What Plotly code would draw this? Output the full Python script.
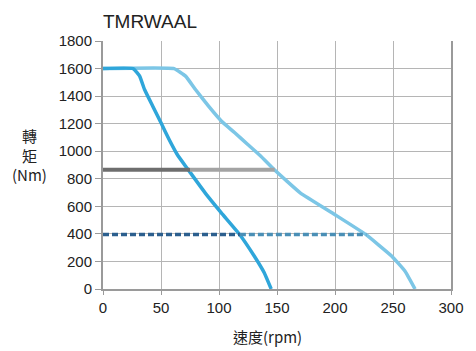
import plotly.graph_objects as go

# Data
x_ticks = [0, 50, 100, 150, 200, 250, 300]
y_ticks = [0, 200, 400, 600, 800, 1000, 1200, 1400, 1600, 1800]

curve_a_x = [0, 26, 31.6, 35.8, 42.9, 50, 57, 64, 71.2, 75.4, 88, 102, 117.8, 130.5, 139, 145]
curve_a_y = [1600, 1600, 1545, 1448, 1327, 1206, 1085, 976, 891, 843, 698, 553, 396, 238, 118, 0]

curve_b_x = [0, 61.3, 71.2, 79.7, 91, 102.2, 113.6, 124.8, 136.1, 147.5, 170, 199.7, 226.5, 249, 260.4, 269]
curve_b_y = [1600, 1600, 1545, 1448, 1327, 1218, 1134, 1049, 964, 867, 698, 541, 396, 238, 129, 0]

gray_dark_x = [0, 75]
gray_light_x = [75, 148]
gray_y = 865

dash_dark_x = [0, 118]
dash_light_x = [118, 227]
dash_y = 395

fig = go.Figure()

fig.add_trace(go.Scatter(x=curve_b_x, y=curve_b_y, mode="lines",
                         line=dict(color="#7cc6e6", width=3.5, shape="spline", smoothing=0.3),
                         hoverinfo="skip"))
fig.add_trace(go.Scatter(x=curve_a_x, y=curve_a_y, mode="lines",
                         line=dict(color="#2fa6da", width=3.5, shape="spline", smoothing=0.3),
                         hoverinfo="skip"))
fig.add_trace(go.Scatter(x=gray_dark_x, y=[gray_y, gray_y], mode="lines",
                         line=dict(color="#6e6e6e", width=4), hoverinfo="skip"))
fig.add_trace(go.Scatter(x=gray_light_x, y=[gray_y, gray_y], mode="lines",
                         line=dict(color="#a3a3a3", width=4), hoverinfo="skip"))
fig.add_trace(go.Scatter(x=dash_dark_x, y=[dash_y, dash_y], mode="lines",
                         line=dict(color="#2c5f8e", width=3.5, dash="6px,3px"), hoverinfo="skip"))
fig.add_trace(go.Scatter(x=dash_light_x, y=[dash_y, dash_y], mode="lines",
                         line=dict(color="#4a8fb6", width=3.5, dash="6px,3px"), hoverinfo="skip"))

# page body has an 8px margin, so the figure starts at (8, 8)
fig.update_layout(
    width=468, height=343,
    margin=dict(l=95, r=19, t=33, b=62),
    paper_bgcolor="white", plot_bgcolor="white",
    showlegend=False,
    font=dict(family="Liberation Sans, Arial, sans-serif", size=15, color="#222222"),
    title=dict(text="TMRWAAL", x=95/468, xanchor="left", y=1 - 13/343, yanchor="middle",
               font=dict(size=19, color="#222222")),
)
fig.update_xaxes(range=[0, 300], tickvals=x_ticks, showgrid=True, gridcolor="#b5b5b5", gridwidth=1,
                 showline=True, linecolor="#9a9a9a", linewidth=2, ticks="outside", ticklen=4,
                 tickcolor="#9a9a9a", zeroline=False, fixedrange=True)
fig.update_yaxes(range=[0, 1800], tickvals=y_ticks, showgrid=True, gridcolor="#b5b5b5", gridwidth=1,
                 showline=True, linecolor="#9a9a9a", linewidth=2, ticks="outside", ticklen=6,
                 tickcolor="#9a9a9a", zeroline=False, fixedrange=True, mirror=True)

fig.add_annotation(text="轉<br>矩<br>(Nm)", xref="paper", yref="paper",
                   x=-(103 - 28) / 354, y=(289.5 - 155) / 248, showarrow=False,
                   xanchor="center", yanchor="middle",
                   font=dict(family="Noto Sans CJK TC, Liberation Sans, sans-serif", size=15, color="#222222"))
fig.add_annotation(text="速度(rpm)", xref="paper", yref="paper",
                   x=(270 - 103) / 354, y=-(337 - 289.5) / 248, showarrow=False,
                   xanchor="center", yanchor="middle",
                   font=dict(family="Noto Sans CJK TC, Liberation Sans, sans-serif", size=15, color="#222222"))

fig.write_html("out.html")
